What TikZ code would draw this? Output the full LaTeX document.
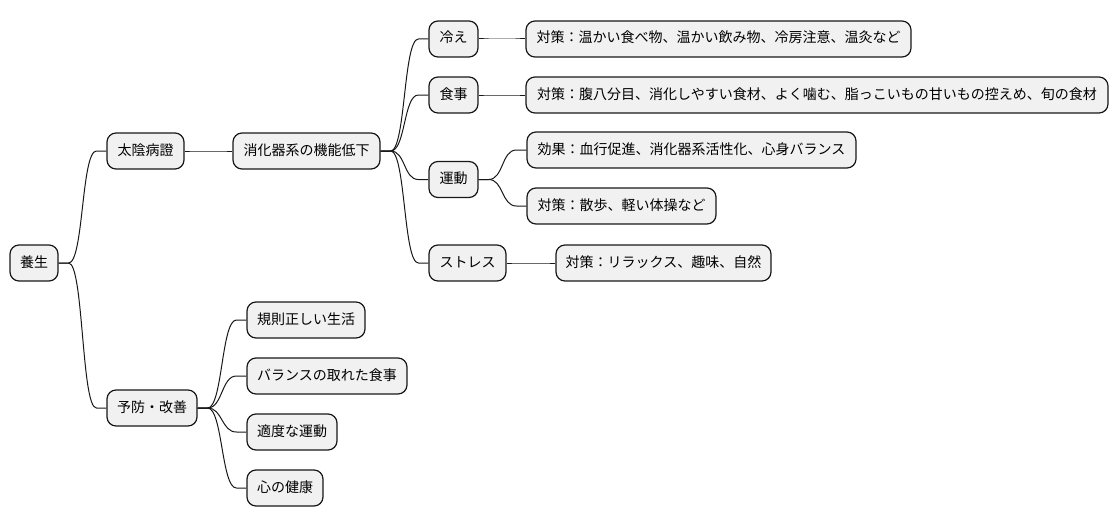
\documentclass[tikz,border=0pt]{standalone}
\usepackage{fontspec}
\setmainfont{Noto Sans CJK JP}
\usetikzlibrary{calc}
\definecolor{boxfill}{HTML}{F1F1F1}
\definecolor{boxline}{HTML}{181818}
\tikzset{
  mmnode/.style={draw=boxline, fill=boxfill, line width=1.2pt, rounded corners=9pt,
    minimum height=36pt, inner xsep=0pt, inner ysep=0pt, font=\fontsize{14pt}{16pt}\selectfont,
    text height=10.5pt, text depth=2.5pt, anchor=center},
  link/.style={draw=boxline, line width=1pt}
}
\newcommand\mmlink[2]{\draw[link] (#1.east) -- ++(10,0) .. controls +(15,0) and +(-15,0) .. ($(#2.west)+(-10,0)$) -- (#2.west);}
\begin{document}
\begin{tikzpicture}[x=1pt,y=-1pt]
\useasboundingbox (0,0) rectangle (1118,527);
\node[mmnode, minimum width=48pt] (yosei) at (34,263) {養生};
\node[mmnode, minimum width=77pt] (taiin) at (145.5,151) {太陰病證};
\node[mmnode, minimum width=147pt] (shoka) at (306.5,151) {消化器系の機能低下};
\node[mmnode, minimum width=49pt] (hie) at (453.5,39) {冷え};
\node[mmnode, minimum width=385pt] (hieT) at (718.5,39) {対策：温かい食べ物、温かい飲み物、冷房注意、温灸など};
\node[mmnode, minimum width=49pt] (shokuji) at (453.5,95) {食事};
\node[mmnode, minimum width=582pt] (shokujiT) at (817,95) {対策：腹八分目、消化しやすい食材、よく噛む、脂っこいもの甘いもの控えめ、旬の食材};
\node[mmnode, minimum width=49pt] (undo) at (453.5,179.5) {運動};
\node[mmnode, minimum width=329pt] (koka) at (691.5,150) {効果：血行促進、消化器系活性化、心身バランス};
\node[mmnode, minimum width=189pt] (sanpo) at (621.5,206) {対策：散歩、軽い体操など};
\node[mmnode, minimum width=77pt] (stress) at (467.5,263) {ストレス};
\node[mmnode, minimum width=215pt] (relax) at (663.5,263) {対策：リラックス、趣味、自然};
\node[mmnode, minimum width=90pt] (yobo) at (152,408) {予防・改善};
\node[mmnode, minimum width=118pt] (kisoku) at (306,320) {規則正しい生活};
\node[mmnode, minimum width=160pt] (balance) at (327,376) {バランスの取れた食事};
\node[mmnode, minimum width=90pt] (tekido) at (292,432) {適度な運動};
\node[mmnode, minimum width=76pt] (kokoro) at (285,488) {心の健康};
\mmlink{yosei}{taiin}
\mmlink{yosei}{yobo}
\mmlink{taiin}{shoka}
\mmlink{shoka}{hie}
\mmlink{shoka}{shokuji}
\mmlink{shoka}{undo}
\mmlink{shoka}{stress}
\mmlink{hie}{hieT}
\mmlink{shokuji}{shokujiT}
\mmlink{undo}{koka}
\mmlink{undo}{sanpo}
\mmlink{stress}{relax}
\mmlink{yobo}{kisoku}
\mmlink{yobo}{balance}
\mmlink{yobo}{tekido}
\mmlink{yobo}{kokoro}
\end{tikzpicture}
\end{document}
